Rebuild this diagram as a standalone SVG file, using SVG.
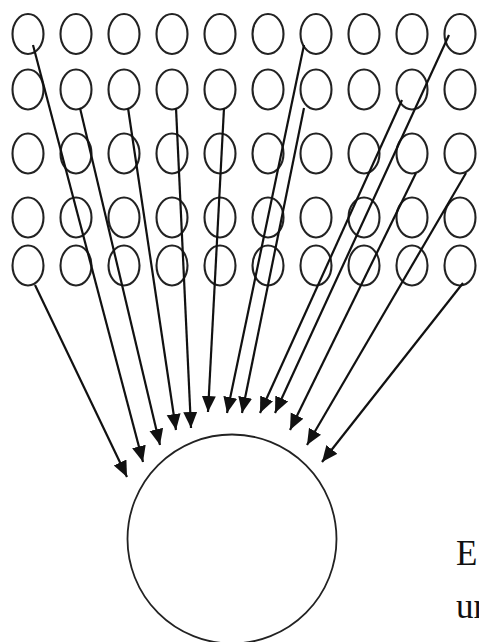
<svg xmlns="http://www.w3.org/2000/svg" width="479" height="642" viewBox="0 0 479 642">
<defs>
<style>
.n{fill:none;stroke:#222;stroke-width:2.1}
.big{fill:#fff;stroke:#222;stroke-width:1.8}
.c line{stroke:#111;stroke-width:2.2;marker-end:url(#ah)}
.t{font-family:"Liberation Serif","Times New Roman",serif;font-size:35px;fill:#111}
</style>
<marker id="ah" markerUnits="userSpaceOnUse" markerWidth="17" markerHeight="15" refX="16" refY="7" orient="auto">
<path d="M0,0 L16,7 L0,14 z" fill="#111"/>
</marker>
</defs>
<rect width="479" height="642" fill="#fff"/>
<g id="grid">
<g id="r1">
<ellipse id="n1_1" class="n" cx="28" cy="34" rx="15.5" ry="20"/>
<ellipse id="n1_2" class="n" cx="76" cy="34" rx="15.5" ry="20"/>
<ellipse id="n1_3" class="n" cx="124" cy="34" rx="15.5" ry="20"/>
<ellipse id="n1_4" class="n" cx="172" cy="34" rx="15.5" ry="20"/>
<ellipse id="n1_5" class="n" cx="220" cy="34" rx="15.5" ry="20"/>
<ellipse id="n1_6" class="n" cx="268" cy="34" rx="15.5" ry="20"/>
<ellipse id="n1_7" class="n" cx="316" cy="34" rx="15.5" ry="20"/>
<ellipse id="n1_8" class="n" cx="364" cy="34" rx="15.5" ry="20"/>
<ellipse id="n1_9" class="n" cx="412" cy="34" rx="15.5" ry="20"/>
<ellipse id="n1_10" class="n" cx="460" cy="34" rx="15.5" ry="20"/>
</g>
<g id="r2">
<ellipse id="n2_1" class="n" cx="28" cy="89.5" rx="15.5" ry="20"/>
<ellipse id="n2_2" class="n" cx="76" cy="89.5" rx="15.5" ry="20"/>
<ellipse id="n2_3" class="n" cx="124" cy="89.5" rx="15.5" ry="20"/>
<ellipse id="n2_4" class="n" cx="172" cy="89.5" rx="15.5" ry="20"/>
<ellipse id="n2_5" class="n" cx="220" cy="89.5" rx="15.5" ry="20"/>
<ellipse id="n2_6" class="n" cx="268" cy="89.5" rx="15.5" ry="20"/>
<ellipse id="n2_7" class="n" cx="316" cy="89.5" rx="15.5" ry="20"/>
<ellipse id="n2_8" class="n" cx="364" cy="89.5" rx="15.5" ry="20"/>
<ellipse id="n2_9" class="n" cx="412" cy="89.5" rx="15.5" ry="20"/>
<ellipse id="n2_10" class="n" cx="460" cy="89.5" rx="15.5" ry="20"/>
</g>
<g id="r3">
<ellipse id="n3_1" class="n" cx="28" cy="153.5" rx="15.5" ry="20"/>
<ellipse id="n3_2" class="n" cx="76" cy="153.5" rx="15.5" ry="20"/>
<ellipse id="n3_3" class="n" cx="124" cy="153.5" rx="15.5" ry="20"/>
<ellipse id="n3_4" class="n" cx="172" cy="153.5" rx="15.5" ry="20"/>
<ellipse id="n3_5" class="n" cx="220" cy="153.5" rx="15.5" ry="20"/>
<ellipse id="n3_6" class="n" cx="268" cy="153.5" rx="15.5" ry="20"/>
<ellipse id="n3_7" class="n" cx="316" cy="153.5" rx="15.5" ry="20"/>
<ellipse id="n3_8" class="n" cx="364" cy="153.5" rx="15.5" ry="20"/>
<ellipse id="n3_9" class="n" cx="412" cy="153.5" rx="15.5" ry="20"/>
<ellipse id="n3_10" class="n" cx="460" cy="153.5" rx="15.5" ry="20"/>
</g>
<g id="r4">
<ellipse id="n4_1" class="n" cx="28" cy="217.5" rx="15.5" ry="20"/>
<ellipse id="n4_2" class="n" cx="76" cy="217.5" rx="15.5" ry="20"/>
<ellipse id="n4_3" class="n" cx="124" cy="217.5" rx="15.5" ry="20"/>
<ellipse id="n4_4" class="n" cx="172" cy="217.5" rx="15.5" ry="20"/>
<ellipse id="n4_5" class="n" cx="220" cy="217.5" rx="15.5" ry="20"/>
<ellipse id="n4_6" class="n" cx="268" cy="217.5" rx="15.5" ry="20"/>
<ellipse id="n4_7" class="n" cx="316" cy="217.5" rx="15.5" ry="20"/>
<ellipse id="n4_8" class="n" cx="364" cy="217.5" rx="15.5" ry="20"/>
<ellipse id="n4_9" class="n" cx="412" cy="217.5" rx="15.5" ry="20"/>
<ellipse id="n4_10" class="n" cx="460" cy="217.5" rx="15.5" ry="20"/>
</g>
<g id="r5">
<ellipse id="n5_1" class="n" cx="28" cy="265.5" rx="15.5" ry="20"/>
<ellipse id="n5_2" class="n" cx="76" cy="265.5" rx="15.5" ry="20"/>
<ellipse id="n5_3" class="n" cx="124" cy="265.5" rx="15.5" ry="20"/>
<ellipse id="n5_4" class="n" cx="172" cy="265.5" rx="15.5" ry="20"/>
<ellipse id="n5_5" class="n" cx="220" cy="265.5" rx="15.5" ry="20"/>
<ellipse id="n5_6" class="n" cx="268" cy="265.5" rx="15.5" ry="20"/>
<ellipse id="n5_7" class="n" cx="316" cy="265.5" rx="15.5" ry="20"/>
<ellipse id="n5_8" class="n" cx="364" cy="265.5" rx="15.5" ry="20"/>
<ellipse id="n5_9" class="n" cx="412" cy="265.5" rx="15.5" ry="20"/>
<ellipse id="n5_10" class="n" cx="460" cy="265.5" rx="15.5" ry="20"/>
</g>
</g>
<g id="target">
<circle class="big" cx="232" cy="539" r="104.5"/>
</g>
<g id="connectors" class="c">
<line x1="33" y1="45" x2="143" y2="462"/>
<line x1="80" y1="108" x2="160" y2="445"/>
<line x1="128" y1="108" x2="176" y2="430"/>
<line x1="176" y1="108" x2="191" y2="428"/>
<line x1="224" y1="108" x2="208" y2="412"/>
<line x1="304" y1="45" x2="227" y2="413"/>
<line x1="304" y1="108" x2="242" y2="413"/>
<line x1="402" y1="100" x2="260" y2="413"/>
<line x1="449" y1="35" x2="275" y2="413"/>
<line x1="416" y1="173" x2="290" y2="430"/>
<line x1="466" y1="173" x2="307" y2="445"/>
<line x1="463" y1="283" x2="322" y2="462"/>
<line x1="35" y1="285" x2="127" y2="477"/>
</g>
<g id="labels">
<text class="t" x="456" y="565">E</text>
<text class="t" x="456" y="618">un</text>
</g>
</svg>
